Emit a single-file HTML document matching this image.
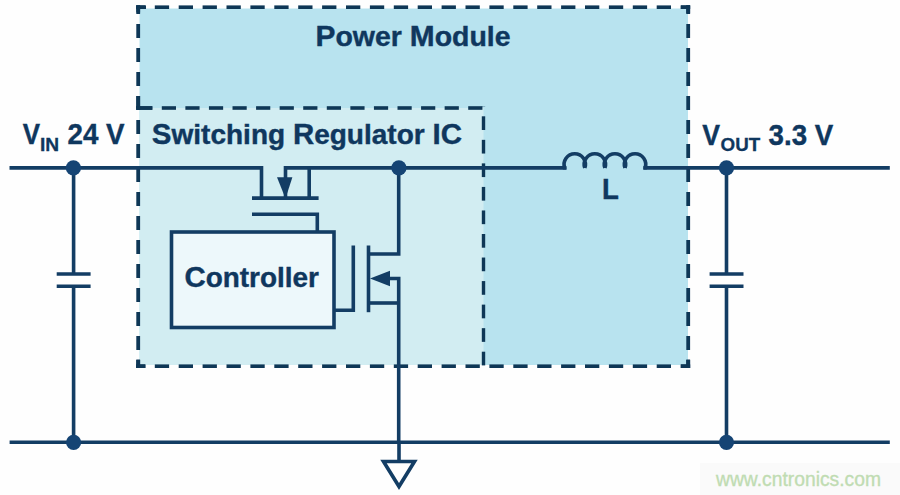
<!DOCTYPE html>
<html><head><meta charset="utf-8"><style>
html,body{margin:0;padding:0;width:900px;height:495px;overflow:hidden;background:#fefefe;}
body{position:relative;font-family:"Liberation Sans", sans-serif;}
div{font-family:"Liberation Sans", sans-serif;}
</style></head><body>
<svg width="900" height="495" viewBox="0 0 900 495" style="position:absolute;left:0;top:0">
<rect width="900" height="495" fill="#fefefe"/>
<rect x="700" y="463" width="200" height="32" fill="#fafafa"/>
<rect x="139.50" y="8.50" width="548.50" height="356.50" fill="#b8e3ef"/>
<rect x="139.50" y="108.00" width="344.00" height="257.00" fill="#d2edf2"/>
<rect x="136.30" y="5.40" width="8.90" height="3.60" fill="#0e3756"/>
<rect x="154.80" y="5.40" width="14.30" height="3.60" fill="#0e3756"/>
<rect x="178.70" y="5.40" width="14.30" height="3.60" fill="#0e3756"/>
<rect x="202.60" y="5.40" width="14.30" height="3.60" fill="#0e3756"/>
<rect x="226.50" y="5.40" width="14.30" height="3.60" fill="#0e3756"/>
<rect x="250.40" y="5.40" width="14.30" height="3.60" fill="#0e3756"/>
<rect x="274.30" y="5.40" width="14.30" height="3.60" fill="#0e3756"/>
<rect x="298.20" y="5.40" width="14.30" height="3.60" fill="#0e3756"/>
<rect x="322.10" y="5.40" width="14.30" height="3.60" fill="#0e3756"/>
<rect x="346.00" y="5.40" width="14.30" height="3.60" fill="#0e3756"/>
<rect x="369.90" y="5.40" width="14.30" height="3.60" fill="#0e3756"/>
<rect x="393.80" y="5.40" width="14.30" height="3.60" fill="#0e3756"/>
<rect x="417.70" y="5.40" width="14.30" height="3.60" fill="#0e3756"/>
<rect x="441.60" y="5.40" width="14.30" height="3.60" fill="#0e3756"/>
<rect x="465.50" y="5.40" width="14.30" height="3.60" fill="#0e3756"/>
<rect x="489.40" y="5.40" width="14.30" height="3.60" fill="#0e3756"/>
<rect x="513.30" y="5.40" width="14.30" height="3.60" fill="#0e3756"/>
<rect x="537.20" y="5.40" width="14.30" height="3.60" fill="#0e3756"/>
<rect x="561.10" y="5.40" width="14.30" height="3.60" fill="#0e3756"/>
<rect x="585.00" y="5.40" width="14.30" height="3.60" fill="#0e3756"/>
<rect x="608.90" y="5.40" width="14.30" height="3.60" fill="#0e3756"/>
<rect x="632.80" y="5.40" width="14.30" height="3.60" fill="#0e3756"/>
<rect x="656.70" y="5.40" width="14.30" height="3.60" fill="#0e3756"/>
<rect x="680.60" y="5.40" width="9.50" height="3.60" fill="#0e3756"/>
<rect x="136.30" y="5.30" width="3.80" height="8.70" fill="#0e3756"/>
<rect x="136.30" y="24.00" width="3.80" height="14.00" fill="#0e3756"/>
<rect x="136.30" y="48.00" width="3.80" height="14.00" fill="#0e3756"/>
<rect x="136.30" y="72.00" width="3.80" height="14.00" fill="#0e3756"/>
<rect x="136.30" y="96.00" width="3.80" height="12.00" fill="#0e3756"/>
<rect x="686.30" y="5.30" width="3.80" height="8.70" fill="#0e3756"/>
<rect x="686.30" y="24.00" width="3.80" height="14.00" fill="#0e3756"/>
<rect x="686.30" y="48.00" width="3.80" height="14.00" fill="#0e3756"/>
<rect x="686.30" y="72.00" width="3.80" height="14.00" fill="#0e3756"/>
<rect x="686.30" y="96.00" width="3.80" height="14.00" fill="#0e3756"/>
<rect x="686.30" y="120.00" width="3.80" height="14.00" fill="#0e3756"/>
<rect x="686.30" y="144.00" width="3.80" height="14.00" fill="#0e3756"/>
<rect x="686.30" y="168.00" width="3.80" height="14.00" fill="#0e3756"/>
<rect x="686.30" y="192.00" width="3.80" height="14.00" fill="#0e3756"/>
<rect x="686.30" y="216.00" width="3.80" height="14.00" fill="#0e3756"/>
<rect x="686.30" y="240.00" width="3.80" height="14.00" fill="#0e3756"/>
<rect x="686.30" y="264.00" width="3.80" height="14.00" fill="#0e3756"/>
<rect x="686.30" y="288.00" width="3.80" height="14.00" fill="#0e3756"/>
<rect x="686.30" y="312.00" width="3.80" height="14.00" fill="#0e3756"/>
<rect x="686.30" y="336.00" width="3.80" height="14.00" fill="#0e3756"/>
<rect x="686.30" y="360.00" width="3.80" height="8.00" fill="#0e3756"/>
<rect x="489.40" y="364.40" width="14.30" height="3.60" fill="#0e3756"/>
<rect x="513.30" y="364.40" width="14.30" height="3.60" fill="#0e3756"/>
<rect x="537.20" y="364.40" width="14.30" height="3.60" fill="#0e3756"/>
<rect x="561.10" y="364.40" width="14.30" height="3.60" fill="#0e3756"/>
<rect x="585.00" y="364.40" width="14.30" height="3.60" fill="#0e3756"/>
<rect x="608.90" y="364.40" width="14.30" height="3.60" fill="#0e3756"/>
<rect x="632.80" y="364.40" width="14.30" height="3.60" fill="#0e3756"/>
<rect x="656.70" y="364.40" width="14.30" height="3.60" fill="#0e3756"/>
<rect x="680.60" y="364.40" width="9.50" height="3.60" fill="#0e3756"/>
<rect x="136.30" y="5.40" width="9.70" height="3.60" fill="#0e3756"/>
<rect x="136.30" y="5.40" width="3.80" height="7.10" fill="#0e3756"/>
<rect x="681.00" y="5.40" width="9.10" height="3.60" fill="#0e3756"/>
<rect x="686.30" y="5.40" width="3.80" height="7.90" fill="#0e3756"/>
<rect x="681.00" y="364.40" width="9.10" height="3.60" fill="#0e3756"/>
<rect x="686.30" y="359.50" width="3.80" height="8.50" fill="#0e3756"/>
<rect x="138.23" y="106.20" width="14.20" height="3.60" fill="#0e3756"/>
<rect x="161.80" y="106.20" width="14.20" height="3.60" fill="#0e3756"/>
<rect x="185.37" y="106.20" width="14.20" height="3.60" fill="#0e3756"/>
<rect x="208.94" y="106.20" width="14.20" height="3.60" fill="#0e3756"/>
<rect x="232.51" y="106.20" width="14.20" height="3.60" fill="#0e3756"/>
<rect x="256.08" y="106.20" width="14.20" height="3.60" fill="#0e3756"/>
<rect x="279.65" y="106.20" width="14.20" height="3.60" fill="#0e3756"/>
<rect x="303.22" y="106.20" width="14.20" height="3.60" fill="#0e3756"/>
<rect x="326.79" y="106.20" width="14.20" height="3.60" fill="#0e3756"/>
<rect x="350.36" y="106.20" width="14.20" height="3.60" fill="#0e3756"/>
<rect x="373.93" y="106.20" width="14.20" height="3.60" fill="#0e3756"/>
<rect x="397.50" y="106.20" width="14.20" height="3.60" fill="#0e3756"/>
<rect x="421.07" y="106.20" width="14.20" height="3.60" fill="#0e3756"/>
<rect x="444.64" y="106.20" width="14.20" height="3.60" fill="#0e3756"/>
<rect x="468.21" y="106.20" width="14.20" height="3.60" fill="#0e3756"/>
<rect x="136.30" y="106.20" width="3.80" height="3.80" fill="#0e3756"/>
<rect x="136.30" y="120.00" width="3.80" height="14.00" fill="#0e3756"/>
<rect x="136.30" y="144.00" width="3.80" height="14.00" fill="#0e3756"/>
<rect x="136.30" y="168.00" width="3.80" height="14.00" fill="#0e3756"/>
<rect x="136.30" y="192.00" width="3.80" height="14.00" fill="#0e3756"/>
<rect x="136.30" y="216.00" width="3.80" height="14.00" fill="#0e3756"/>
<rect x="136.30" y="240.00" width="3.80" height="14.00" fill="#0e3756"/>
<rect x="136.30" y="264.00" width="3.80" height="14.00" fill="#0e3756"/>
<rect x="136.30" y="288.00" width="3.80" height="14.00" fill="#0e3756"/>
<rect x="136.30" y="312.00" width="3.80" height="14.00" fill="#0e3756"/>
<rect x="136.30" y="336.00" width="3.80" height="14.00" fill="#0e3756"/>
<rect x="136.30" y="360.00" width="3.80" height="8.00" fill="#0e3756"/>
<rect x="481.80" y="106.20" width="3.40" height="0.26" fill="#0e3756"/>
<rect x="481.80" y="116.30" width="3.40" height="13.70" fill="#0e3756"/>
<rect x="481.80" y="139.84" width="3.40" height="13.70" fill="#0e3756"/>
<rect x="481.80" y="163.38" width="3.40" height="13.70" fill="#0e3756"/>
<rect x="481.80" y="186.92" width="3.40" height="13.70" fill="#0e3756"/>
<rect x="481.80" y="210.46" width="3.40" height="13.70" fill="#0e3756"/>
<rect x="481.80" y="234.00" width="3.40" height="13.70" fill="#0e3756"/>
<rect x="481.80" y="257.54" width="3.40" height="13.70" fill="#0e3756"/>
<rect x="481.80" y="281.08" width="3.40" height="13.70" fill="#0e3756"/>
<rect x="481.80" y="304.62" width="3.40" height="13.70" fill="#0e3756"/>
<rect x="481.80" y="328.16" width="3.40" height="13.70" fill="#0e3756"/>
<rect x="481.80" y="351.70" width="3.40" height="13.70" fill="#0e3756"/>
<rect x="136.30" y="364.40" width="8.90" height="3.60" fill="#0e3756"/>
<rect x="154.80" y="364.40" width="14.30" height="3.60" fill="#0e3756"/>
<rect x="178.70" y="364.40" width="14.30" height="3.60" fill="#0e3756"/>
<rect x="202.60" y="364.40" width="14.30" height="3.60" fill="#0e3756"/>
<rect x="226.50" y="364.40" width="14.30" height="3.60" fill="#0e3756"/>
<rect x="250.40" y="364.40" width="14.30" height="3.60" fill="#0e3756"/>
<rect x="274.30" y="364.40" width="14.30" height="3.60" fill="#0e3756"/>
<rect x="298.20" y="364.40" width="14.30" height="3.60" fill="#0e3756"/>
<rect x="322.10" y="364.40" width="14.30" height="3.60" fill="#0e3756"/>
<rect x="346.00" y="364.40" width="14.30" height="3.60" fill="#0e3756"/>
<rect x="369.90" y="364.40" width="14.30" height="3.60" fill="#0e3756"/>
<rect x="393.80" y="364.40" width="14.30" height="3.60" fill="#0e3756"/>
<rect x="417.70" y="364.40" width="14.30" height="3.60" fill="#0e3756"/>
<rect x="441.60" y="364.40" width="14.30" height="3.60" fill="#0e3756"/>
<rect x="465.50" y="364.40" width="14.30" height="3.60" fill="#0e3756"/>
<rect x="136.30" y="96.00" width="3.80" height="13.80" fill="#0e3756"/>
<rect x="136.30" y="106.20" width="15.90" height="3.60" fill="#0e3756"/>
<rect x="136.30" y="359.50" width="3.80" height="8.50" fill="#0e3756"/>
<rect x="136.30" y="364.40" width="9.20" height="3.60" fill="#0e3756"/>
<g fill="none" stroke="#133d64" stroke-width="3.6" stroke-linecap="butt" stroke-linejoin="miter">
<path d="M9.5 167.9 H261.5 V198.1"/>
<path d="M285.5 198 V167.9 H566.4"/>
<path d="M643.4 167.9 H889.8"/>
<path d="M564.7 169.6 V167.9 A10.66 10.66 0 1 1 584.8 167.9 M584.8 167.9 A10.66 10.66 0 1 1 604.9 167.9 M604.9 167.9 A10.66 10.66 0 1 1 625 167.9 M625 167.9 A10.66 10.66 0 1 1 645.1 167.9 V169.6"/>
<path d="M309.2 167.9 V198.1"/>
<path d="M252 198.1 H318.6"/>
<path d="M252 214.3 H317.3 V232"/>
<rect x="171.5" y="232" width="162.5" height="95.5" fill="#edf8fb"/>
<path d="M334 310.2 H353.3 V245.5"/>
<path d="M368.5 245.5 V312.2"/>
<path d="M368.5 254 H398.7 V167.9"/>
<path d="M388 278.5 H398.7 V442.3"/>
<path d="M368.5 303 H398.7"/>
<path d="M73.6 167.9 V274 M56.7 274 H90.6 M56.7 286.2 H90.6 M73.6 286.2 V442.3"/>
<path d="M726.5 167.9 V274 M709.6 274 H743.5 M709.6 286.2 H743.5 M726.5 286.2 V442.3"/>
<path d="M9.6 442.3 H889.8"/>
<path d="M399 442.3 V461.5 M383.5 461.5 H414.5 L399 486.5 Z"/>
</g>
<path d="M277 177.3 H292.4 L285.5 198.5 Z" fill="#133d64"/>
<path d="M370 278.5 L390 270.7 V286.2 Z" fill="#133d64"/>
<circle cx="73.4" cy="167.9" r="7.6" fill="#154474"/>
<circle cx="398.9" cy="167.9" r="7.6" fill="#154474"/>
<circle cx="726.5" cy="167.9" r="7.6" fill="#154474"/>
<circle cx="73.6" cy="442.3" r="7.6" fill="#154474"/>
<circle cx="726.5" cy="442.3" r="7.6" fill="#154474"/>
<g font-family="Liberation Sans, sans-serif">
<text transform="translate(315.55,45.9) scale(1.0164,1)" font-size="28.0" font-weight="bold" fill="#0f375e" stroke="#0f375e" stroke-width="0.4"><tspan font-size="29.40">P</tspan>ower <tspan font-size="29.40">M</tspan>odule</text>
<text transform="translate(151.85,144.3) scale(1.0013,1)" font-size="28.0" font-weight="bold" fill="#0f375e" stroke="#0f375e" stroke-width="0.4"><tspan font-size="29.40">S</tspan>witching <tspan font-size="29.40">R</tspan>egulator <tspan font-size="29.40">I</tspan><tspan font-size="29.40">C</tspan></text>
<text transform="translate(184.5,286.7) scale(0.9978,1)" font-size="28.0" font-weight="bold" fill="#0f375e" stroke="#0f375e" stroke-width="0.4"><tspan font-size="29.40">C</tspan>ontroller</text>
<text transform="translate(22.7,144.3) scale(0.8785,1)" font-size="29.5" font-weight="bold" fill="#0f375e" stroke="#0f375e" stroke-width="0.4">V</text>
<text transform="translate(40.05,151.0) scale(1.0365,1)" font-size="18.5" font-weight="bold" fill="#0f375e" stroke="#0f375e" stroke-width="0.3">IN</text>
<text transform="translate(67.45,144.2) scale(0.9408,1)" font-size="29.5" font-weight="bold" fill="#0f375e" stroke="#0f375e" stroke-width="0.4">24 V</text>
<text transform="translate(702.3,144.6) scale(0.9039,1)" font-size="29.5" font-weight="bold" fill="#0f375e" stroke="#0f375e" stroke-width="0.4">V</text>
<text transform="translate(720.55,150.9) scale(1.0156,1)" font-size="18.5" font-weight="bold" fill="#0f375e" stroke="#0f375e" stroke-width="0.3">OUT</text>
<text transform="translate(768.6,144.5) scale(0.9387,1)" font-size="29.5" font-weight="bold" fill="#0f375e" stroke="#0f375e" stroke-width="0.4">3.3 V</text>
<text transform="translate(602.05,198.8) scale(0.9355,1)" font-size="29.5" font-weight="bold" fill="#0f375e" stroke="#0f375e" stroke-width="0.4">L</text>
<text x="716" y="485.6" font-size="19.3" fill="#c0dcb2" stroke="#c0dcb2" stroke-width="0.35">www.cntronics.com</text>
</g></svg>
</body></html>
